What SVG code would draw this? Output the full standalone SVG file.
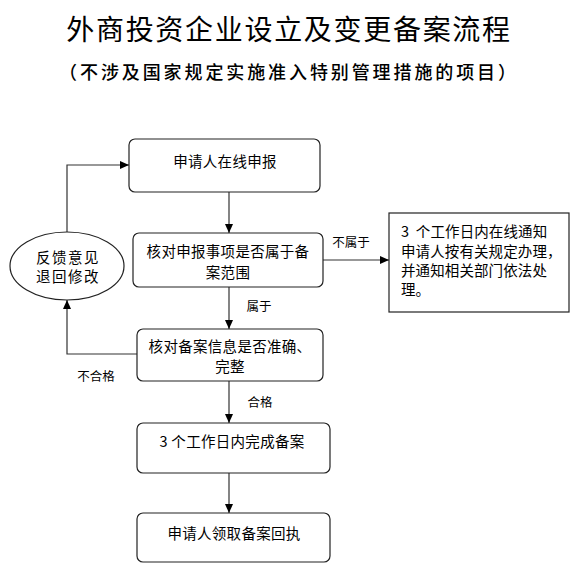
<svg xmlns="http://www.w3.org/2000/svg" width="581" height="572" viewBox="0 0 581 572">
<defs>
<marker id="arr" markerWidth="10" markerHeight="10" refX="9" refY="5" orient="auto" markerUnits="userSpaceOnUse">
<path d="M0,1 L9,5 L0,9 Z" fill="#000"/>
</marker>
<style>
text{font-family:"Noto Sans CJK SC","Liberation Sans",sans-serif;fill:#000}
.box{fill:#fff;stroke:#222;stroke-width:1.2}
.t{font-size:14.5px;text-anchor:middle;letter-spacing:0.3px}
.r{font-size:14.5px;letter-spacing:0.1px}
.lbl{font-size:12.5px;text-anchor:middle}
.con{fill:none;stroke:#333;stroke-width:1.2;marker-end:url(#arr)}
</style>
</defs>
<rect width="581" height="572" fill="#fff"/>
<text x="289" y="40" style="font-size:28px;text-anchor:middle;letter-spacing:1.7px">外商投资企业设立及变更备案流程</text>
<text x="289" y="79" style="font-size:18px;text-anchor:middle;letter-spacing:2.9px;font-weight:500">（不涉及国家规定实施准入特别管理措施的项目）</text>

<g id="connectors">
<path class="con" d="M229,192 V233"/>
<path class="con" d="M229,287 V329"/>
<path class="con" d="M229,381 V423"/>
<path class="con" d="M229,473 V513"/>
<path class="con" d="M323,260 H389"/>
<path class="con" d="M137,354 H67 V300"/>
<path class="con" d="M67,232 V165 H129"/>
<text class="lbl" x="259" y="311">属于</text>
<text class="lbl" x="351" y="247">不属于</text>
<text class="lbl" x="96" y="381">不合格</text>
<text class="lbl" x="260" y="407">合格</text>
</g>

<g id="n1">
<rect class="box" x="129" y="139" width="191" height="53" rx="6"/>
<text class="t" x="225" y="167">申请人在线申报</text>
</g>
<g id="n2">
<rect class="box" x="133" y="233" width="190" height="54" rx="6"/>
<text class="t" x="228" y="257">核对申报事项是否属于备</text>
<text class="t" x="228" y="278">案范围</text>
</g>
<g id="n3">
<rect class="box" x="137" y="329" width="186" height="52" rx="6"/>
<text class="t" x="230" y="352">核对备案信息是否准确、</text>
<text class="t" x="230" y="372">完整</text>
</g>
<g id="n4">
<rect class="box" x="137" y="423" width="193" height="50" rx="6"/>
<text class="t" x="232" y="447">3 个工作日内完成备案</text>
</g>
<g id="n5">
<rect class="box" x="137" y="513" width="193" height="49" rx="6"/>
<text class="t" x="234" y="539">申请人领取备案回执</text>
</g>
<g id="n6">
<rect class="box" x="389" y="213" width="180" height="99"/>
<text class="r" x="401" y="237">3&#160; 个工作日内在线通知</text>
<text class="r" x="401" y="257">申请人按有关规定办理，</text>
<text class="r" x="401" y="276">并通知相关部门依法处</text>
<text class="r" x="401" y="295">理。</text>
</g>
<g id="n7">
<ellipse class="box" cx="67" cy="266" rx="57" ry="34"/>
<text class="t" x="68" y="263" style="letter-spacing:1.5px">反馈意见</text>
<text class="t" x="68" y="282" style="letter-spacing:1.5px">退回修改</text>
</g>
</svg>
